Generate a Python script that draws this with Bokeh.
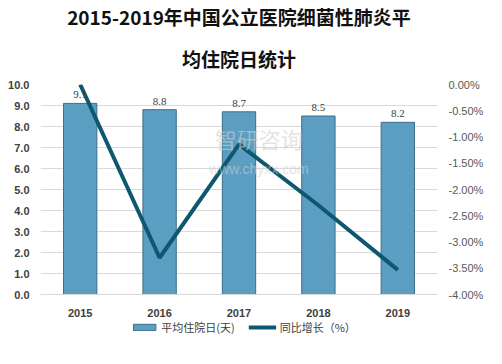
from bokeh.plotting import figure
from bokeh.layouts import column
from bokeh.models import (ColumnDataSource, Range1d, LinearAxis, PrintfTickFormatter,
                          LabelSet, Legend, LegendItem, Label, FixedTicker, Title)
from bokeh.embed import file_html
from bokeh.resources import INLINE

years = ["2015", "2016", "2017", "2018", "2019"]
days = [9.1, 8.8, 8.7, 8.5, 8.2]
growth = [0.0, -3.3, -1.14, -2.3, -3.53]
bar_labels = ["9.1", "8.8", "8.7", "8.5", "8.2"]
left_ticks = [0, 1, 2, 3, 4, 5, 6, 7, 8, 9, 10]
right_ticks = [-4.0, -3.5, -3.0, -2.5, -2.0, -1.5, -1.0, -0.5, 0.0]
series_names = ["平均住院日(天)", "同比增长（%）"]

BAR_FILL, BAR_LINE, LINE_COL = "#5b9ec2", "#3d6f88", "#0d5870"

src = ColumnDataSource(dict(x=years, d=days, g=growth, lab=bar_labels))

p = figure(frame_width=397, frame_height=210, x_range=years, y_range=Range1d(0, 10),
           output_backend="svg", toolbar_location=None,
           min_border_left=40, min_border_right=49, min_border_top=0, min_border_bottom=0,
           outline_line_color=None, border_fill_color="white")
p.x_range.range_padding = 0.0
p.extra_y_ranges = {"pct": Range1d(-4, 0)}

p.title.text = "2015-2019年中国公立医院细菌性肺炎平"
p.title.align = "center"
p.title.text_font = "Noto Sans CJK SC"
p.title.text_font_size = "19px"
p.title.text_font_style = "bold"
p.title.text_color = "#111111"
p.title.standoff = 0
t2 = Title(text="均住院日统计", align="center",
           text_font="Noto Sans CJK SC", text_font_size="19px", text_font_style="bold",
           text_color="#111111", standoff=26)
p.add_layout(t2, "above")

bars = p.vbar(x="x", top="d", width=0.42, source=src, fill_color=BAR_FILL,
              line_color=BAR_LINE, line_width=1)
line = p.line(x="x", y="g", source=src, y_range_name="pct", line_color=LINE_COL,
              line_width=4)

labels = LabelSet(x="x", y="d", text="lab", source=src, y_offset=5, text_align="center",
                  text_font_size="11px", text_color="#404040", text_font="Liberation Sans")
p.add_layout(labels)

ax = p.yaxis[0]
ax.ticker = FixedTicker(ticks=left_ticks)
ax.formatter = PrintfTickFormatter(format="%.1f")
ax.axis_line_color = None
ax.major_tick_line_color = None
ax.minor_tick_line_color = None
ax.major_label_text_font_size = "11px"
ax.major_label_text_font_style = "bold"
ax.major_label_text_color = "#404040"
ax.major_label_text_font = "Liberation Sans"

rax = LinearAxis(y_range_name="pct", ticker=FixedTicker(ticks=right_ticks),
                 formatter=PrintfTickFormatter(format="%.2f%%"))
rax.axis_line_color = None
rax.major_tick_line_color = None
rax.minor_tick_line_color = None
rax.major_label_text_font_size = "11px"
rax.major_label_text_color = "#595959"
rax.major_label_text_font = "Liberation Sans"
p.add_layout(rax, "right")

xa = p.xaxis[0]
xa.axis_line_color = "#d9d9d9"
xa.major_tick_line_color = None
xa.major_label_text_font_size = "11px"
xa.major_label_text_font_style = "bold"
xa.major_label_text_color = "#404040"
xa.major_label_text_font = "Liberation Sans"
xa.major_label_standoff = 8

p.xgrid.grid_line_color = None
p.ygrid.grid_line_color = "#d9d9d9"
p.ygrid.ticker = FixedTicker(ticks=left_ticks)

p.add_layout(Label(x=2.75, y=6.7, text="智研咨询", text_font="Noto Sans CJK SC",
                   text_font_size="22px", text_color="#d0d0d0", text_align="center",
                   text_alpha=0.6))
p.add_layout(Label(x=2.75, y=5.6, text="www.chyxx.com", text_font="Liberation Sans",
                   text_font_size="14px", text_color="#d0d0d0", text_align="center",
                   text_alpha=0.6))

# legend strip as a separate small figure; its proxy glyphs lie outside the visible range
lg = figure(frame_width=486, frame_height=30, x_range=Range1d(0, 1), y_range=Range1d(0, 1),
            output_backend="svg", toolbar_location=None, min_border=0,
            outline_line_color=None, border_fill_color="white")
lg.axis.visible = False
lg.grid.visible = False
proxy = ColumnDataSource(dict(x=[5, 6], y=[5, 5], top=[5, 5]))
lb = lg.vbar(x="x", top="top", width=0.1, source=proxy, fill_color=BAR_FILL,
             line_color=BAR_LINE)
ll = lg.line(x="x", y="y", source=proxy, line_color=LINE_COL, line_width=4)
legend = Legend(items=[LegendItem(label=series_names[0], renderers=[lb]),
                       LegendItem(label=series_names[1], renderers=[ll])],
                orientation="horizontal", location="top_center",
                label_text_font="Noto Sans CJK SC", label_text_font_size="11px",
                label_text_color="#404040", border_line_color=None,
                background_fill_alpha=0,
                glyph_width=28, glyph_height=8, spacing=14, padding=0, margin=0,
                label_standoff=3)
lg.add_layout(legend)

open("out.html", "w").write(file_html(column(p, lg, spacing=0), INLINE))
